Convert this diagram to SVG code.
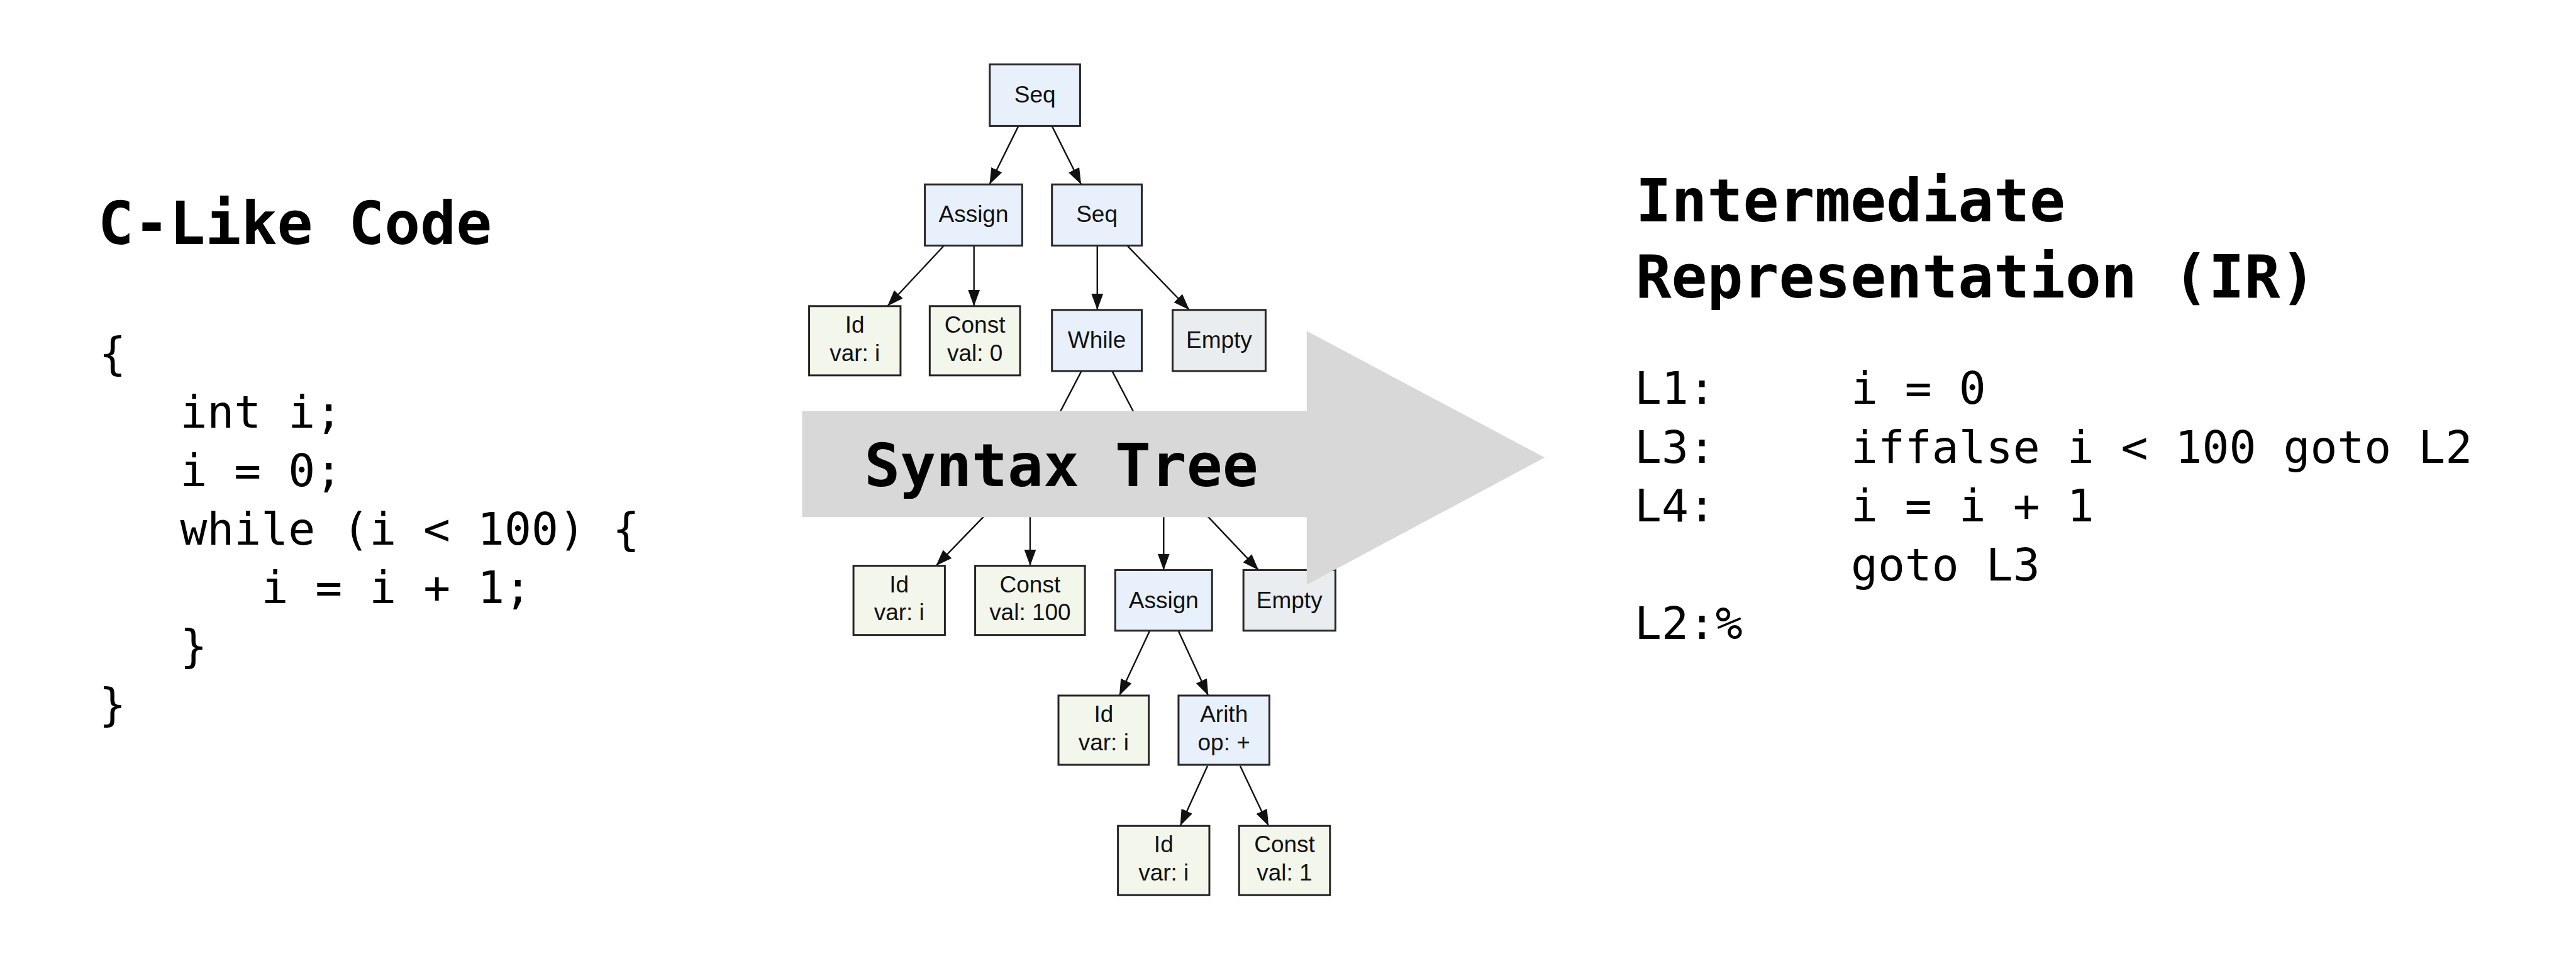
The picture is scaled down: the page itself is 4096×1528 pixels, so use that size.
<svg xmlns="http://www.w3.org/2000/svg" width="4096" height="1528" viewBox="0 0 4096 1528">
<style>
.box{stroke:#262626;stroke-width:3.5}
.op{fill:#e8f1fb}
.leaf{fill:#f3f6ea}
.emp{fill:#eaedef}
.nt{font-family:"Liberation Sans",Arial,sans-serif;font-size:43px;fill:#111;text-anchor:middle}
.edge{stroke:#111;stroke-width:2.8;fill:none}
.title{font-family:"DejaVu Sans Mono","Liberation Mono",monospace;font-weight:bold;font-size:110px;fill:#000}
.code{font-family:"DejaVu Sans Mono","Liberation Mono",monospace;font-size:83px;fill:#000}
</style>
<defs>
<marker id="ah" markerUnits="userSpaceOnUse" markerWidth="32" markerHeight="24" refX="30" refY="11" orient="auto">
<path d="M0,0 L30,11 L0,22 z" fill="#111"/>
</marker>
</defs>
<rect x="0" y="0" width="4096" height="1528" fill="#fff"/>
<g transform="scale(0.86)">
<g id="left-code">
<text class="title" x="181" y="451">C-Like Code</text>
<text class="code" x="183" y="683">{</text>
<text class="code" x="333" y="791">int i;</text>
<text class="code" x="333" y="899">i = 0;</text>
<text class="code" x="333" y="1007">while (i &lt; 100) {</text>
<text class="code" x="483" y="1115">i = i + 1;</text>
<text class="code" x="333" y="1223">}</text>
<text class="code" x="183" y="1331">}</text>
</g>
<g id="connectors">
<line class="edge" x1="1883" y1="233" x2="1829.5" y2="341" marker-end="url(#ah)"/>
<line class="edge" x1="1945" y1="233" x2="1999" y2="341" marker-end="url(#ah)"/>
<line class="edge" x1="1744.6" y1="455" x2="1640.8" y2="566" marker-end="url(#ah)"/>
<line class="edge" x1="1800.8" y1="455" x2="1800.8" y2="566" marker-end="url(#ah)"/>
<line class="edge" x1="2028.8" y1="455" x2="2028.8" y2="573" marker-end="url(#ah)"/>
<line class="edge" x1="2085" y1="455" x2="2199" y2="573" marker-end="url(#ah)"/>
<line class="edge" x1="1999" y1="687" x2="1940" y2="800"/>
<line class="edge" x1="2056.8" y1="687" x2="2116" y2="800"/>
<line class="edge" x1="1853" y1="920" x2="1730.6" y2="1046" marker-end="url(#ah)"/>
<line class="edge" x1="1904.6" y1="920" x2="1904.6" y2="1046" marker-end="url(#ah)"/>
<line class="edge" x1="2151.5" y1="920" x2="2151.5" y2="1054" marker-end="url(#ah)"/>
<line class="edge" x1="2200" y1="920" x2="2327" y2="1054" marker-end="url(#ah)"/>
<line class="edge" x1="2125.4" y1="1167" x2="2069.6" y2="1286" marker-end="url(#ah)"/>
<line class="edge" x1="2179" y1="1167" x2="2234" y2="1286" marker-end="url(#ah)"/>
<line class="edge" x1="2232.6" y1="1416" x2="2182" y2="1527" marker-end="url(#ah)"/>
<line class="edge" x1="2292.9" y1="1416" x2="2345.5" y2="1527" marker-end="url(#ah)"/>
</g>
<g id="n-seq0"><rect class="box op" x="1830" y="119" width="167" height="114"/><text class="nt" x="1913.5" y="190">Seq</text></g>
<g id="n-assign1"><rect class="box op" x="1710" y="341" width="180" height="113"/><text class="nt" x="1800" y="411">Assign</text></g>
<g id="n-seq1"><rect class="box op" x="1945" y="341" width="166" height="113"/><text class="nt" x="2028" y="411">Seq</text></g>
<g id="n-id1"><rect class="box leaf" x="1496" y="566" width="169" height="128"/><text class="nt" x="1580.5" y="615">Id</text><text class="nt" x="1580.5" y="667">var: i</text></g>
<g id="n-const1"><rect class="box leaf" x="1719" y="566" width="167" height="128"/><text class="nt" x="1802.5" y="615">Const</text><text class="nt" x="1802.5" y="667">val: 0</text></g>
<g id="n-while"><rect class="box op" x="1945" y="573" width="166" height="113"/><text class="nt" x="2028" y="643">While</text></g>
<g id="n-empty1"><rect class="box emp" x="2168" y="573" width="172" height="113"/><text class="nt" x="2254" y="643">Empty</text></g>
<g id="n-id2"><rect class="box leaf" x="1578" y="1046" width="169" height="128"/><text class="nt" x="1662.5" y="1095">Id</text><text class="nt" x="1662.5" y="1147">var: i</text></g>
<g id="n-const2"><rect class="box leaf" x="1803" y="1046" width="203" height="128"/><text class="nt" x="1904.5" y="1095">Const</text><text class="nt" x="1904.5" y="1147">val: 100</text></g>
<g id="n-assign2"><rect class="box op" x="2062" y="1054" width="179" height="112"/><text class="nt" x="2151.5" y="1124">Assign</text></g>
<g id="n-empty2"><rect class="box emp" x="2299" y="1054" width="170" height="112"/><text class="nt" x="2384" y="1124">Empty</text></g>
<g id="n-id3"><rect class="box leaf" x="1957" y="1286" width="167" height="128"/><text class="nt" x="2040.5" y="1335">Id</text><text class="nt" x="2040.5" y="1387">var: i</text></g>
<g id="n-arith"><rect class="box op" x="2179" y="1286" width="168" height="128"/><text class="nt" x="2263" y="1335">Arith</text><text class="nt" x="2263" y="1387">op: +</text></g>
<g id="n-id4"><rect class="box leaf" x="2067" y="1527" width="169" height="128"/><text class="nt" x="2151.5" y="1576">Id</text><text class="nt" x="2151.5" y="1628">var: i</text></g>
<g id="n-const3"><rect class="box leaf" x="2291" y="1527" width="168" height="128"/><text class="nt" x="2375" y="1576">Const</text><text class="nt" x="2375" y="1628">val: 1</text></g>
<g id="big-arrow">
<polygon points="1483,760 2416,760 2416,612 2856,846 2416,1081 2416,956 1483,956" fill="#d8d8d8"/>
<text class="title" x="1598" y="899">Syntax Tree</text>
</g>
<g id="right-ir">
<text class="title" x="3024" y="409">Intermediate</text>
<text class="title" x="3024" y="550">Representation (IR)</text>
<text class="code" x="3022" y="747">L1:</text>
<text class="code" x="3422" y="747">i = 0</text>
<text class="code" x="3022" y="856">L3:</text>
<text class="code" x="3422" y="856">iffalse i &lt; 100 goto L2</text>
<text class="code" x="3022" y="964">L4:</text>
<text class="code" x="3422" y="964">i = i + 1</text>
<text class="code" x="3422" y="1073">goto L3</text>
<text class="code" x="3022" y="1181">L2:%</text>
</g>
</g>
</svg>
